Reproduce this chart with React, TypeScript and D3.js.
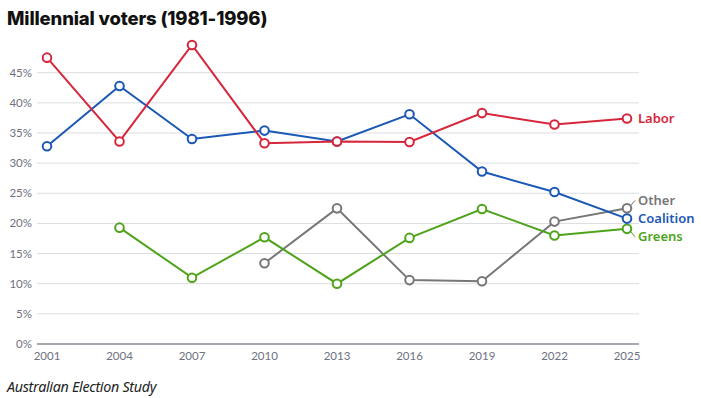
import React from 'react';
import * as d3 from 'd3';

const years = ['2001', '2004', '2007', '2010', '2013', '2016', '2019', '2022', '2025'];
const yTicks = [0, 5, 10, 15, 20, 25, 30, 35, 40, 45];

const labor = [47.5, 33.6, 49.6, 33.3, 33.6, 33.5, 38.3, 36.4, 37.4];
const coalition = [32.8, 42.8, 34.0, 35.4, 33.6, 38.1, 28.6, 25.2, 20.8];
const greens = [null, 19.3, 11.0, 17.7, 10.0, 17.6, 22.4, 18.0, 19.1];
const other = [null, null, null, 13.4, 22.5, 10.6, 10.4, 20.3, 22.5];

type Series = { name: string; values: (number | null)[]; color: string; labelDy: number };

const SERIES: Series[] = [
  { name: 'Other', values: other, color: '#777777', labelDy: -8 },
  { name: 'Greens', values: greens, color: '#4fa31b', labelDy: 8 },
  { name: 'Coalition', values: coalition, color: '#1b58b5', labelDy: 0 },
  { name: 'Labor', values: labor, color: '#d6263b', labelDy: 0 },
];

const WIDTH = 701;
const HEIGHT = 398;
const GRID_LEFT = 37;
const GRID_RIGHT = 639;

const App = () => {
  const xScale = d3.scalePoint<string>()
    .domain(years)
    .range([47, 627]);
  const yScale = d3.scaleLinear()
    .domain([0, 45])
    .range([344, 72.7]);

  const line = d3.line<number | null>()
    .defined(d => d !== null)
    .x((_, i) => xScale(years[i]) as number)
    .y(d => yScale(d as number));

  const tickFont = 'Lato, "Noto Sans", sans-serif';
  const lastX = xScale(years[years.length - 1]) as number;

  return (
    <div style={{ position: 'absolute', left: 0, top: 0 }}>
      <svg width={WIDTH} height={HEIGHT} style={{ display: 'block' }}>
        <rect width={WIDTH} height={HEIGHT} fill="#ffffff" />
        <text
          x={7}
          y={25}
          fontFamily='Inter, "Noto Sans", sans-serif'
          fontWeight={800}
          fontSize={18.5}
          letterSpacing={-0.15}
          fill="#111111"
        >
          Millennial voters (1981-1996)
        </text>

        {yTicks.map(t => (
          <g key={t}>
            {t > 0 && (
              <line
                x1={GRID_LEFT}
                x2={GRID_RIGHT}
                y1={yScale(t)}
                y2={yScale(t)}
                stroke="#dcdde2"
                strokeWidth={1}
              />
            )}
            <text
              x={32}
              y={yScale(t)}
              dy="0.35em"
              textAnchor="end"
              fontFamily={tickFont}
              fontSize={11.5}
              fill="#6e7180"
            >
              {`${t}%`}
            </text>
          </g>
        ))}
        <line
          x1={GRID_LEFT}
          x2={GRID_RIGHT}
          y1={yScale(0)}
          y2={yScale(0)}
          stroke="#535766"
          strokeWidth={1.2}
        />
        {years.map(yr => (
          <text
            key={yr}
            x={xScale(yr)}
            y={360}
            textAnchor="middle"
            fontFamily={tickFont}
            fontSize={11.5}
            fill="#6e7180"
          >
            {yr}
          </text>
        ))}

        {SERIES.map(s => (
          <g key={s.name}>
            <path d={line(s.values) || ''} fill="none" stroke={s.color} strokeWidth={2} />
            {s.values.map((v, i) => v === null ? null : (
              <circle
                key={i}
                cx={xScale(years[i])}
                cy={yScale(v)}
                r={4.3}
                fill="#ffffff"
                stroke={s.color}
                strokeWidth={2}
              />
            ))}
          </g>
        ))}

        {SERIES.map(s => {
          const last = s.values[s.values.length - 1] as number;
          const py = yScale(last);
          const ly = py + s.labelDy;
          return (
            <g key={`lab-${s.name}`}>
              {s.labelDy !== 0 && (
                <line
                  x1={lastX + 4}
                  y1={py + Math.sign(s.labelDy) * 3}
                  x2={lastX + 8}
                  y2={ly}
                  stroke={s.color}
                  strokeWidth={1}
                />
              )}
              <text
                x={lastX + 11}
                y={ly}
                dy="0.35em"
                fontFamily='"Source Sans Pro", "Noto Sans", sans-serif'
                fontWeight={600}
                fontSize={13}
                fill={s.color}
              >
                {s.name}
              </text>
            </g>
          );
        })}

        <text
          x={7}
          y={392}
          fontFamily='"Noto Sans", sans-serif'
          fontStyle="italic"
          fontSize={14.3}
          letterSpacing={-0.3}
          fill="#222222"
        >
          Australian Election Study
        </text>
      </svg>
    </div>
  );
};

export default App;
